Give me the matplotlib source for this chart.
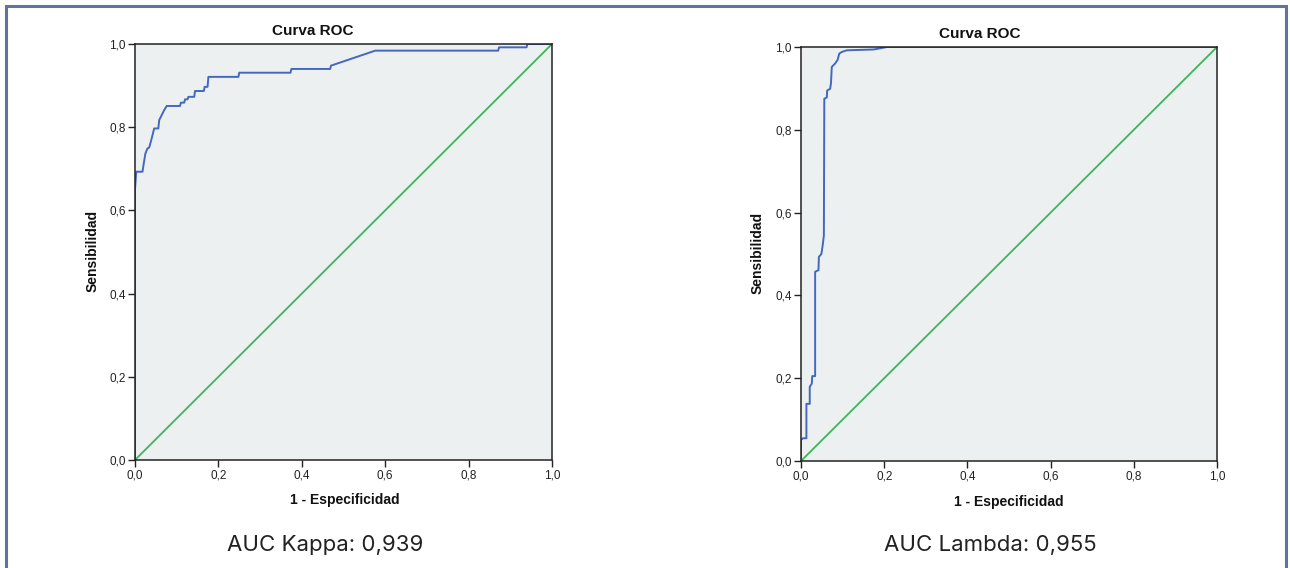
import matplotlib
matplotlib.use("Agg")
import matplotlib.pyplot as plt
from matplotlib.patches import Rectangle


# Curva ROC - Kappa
kappa_fpr = [0.0, 0.0, 0.003, 0.018, 0.021, 0.025, 0.030, 0.034, 0.040, 0.046,
             0.056, 0.058, 0.064, 0.070, 0.076, 0.108, 0.110, 0.118, 0.120,
             0.126, 0.128, 0.142, 0.144, 0.165, 0.167, 0.174, 0.176, 0.248,
             0.250, 0.373, 0.375, 0.468, 0.470, 0.576, 0.871, 0.873, 0.939,
             0.941, 1.0]
kappa_tpr = [0.0, 0.650, 0.693, 0.693, 0.713, 0.737, 0.749, 0.751, 0.773, 0.797,
             0.797, 0.817, 0.829, 0.841, 0.851, 0.851, 0.859, 0.859, 0.867,
             0.867, 0.873, 0.873, 0.887, 0.887, 0.897, 0.897, 0.921, 0.921,
             0.931, 0.931, 0.940, 0.940, 0.948, 0.984, 0.984, 0.992, 0.992,
             1.0, 1.0]

# Curva ROC - Lambda
lambda_fpr = [0.0, 0.0, 0.005, 0.013, 0.013, 0.021, 0.021, 0.026, 0.027, 0.034,
              0.034, 0.042, 0.043, 0.049, 0.052, 0.055, 0.056, 0.062, 0.063,
              0.070, 0.072, 0.074, 0.082, 0.088, 0.092, 0.098, 0.110, 0.175,
              0.207, 1.0]
lambda_tpr = [0.0, 0.051, 0.055, 0.055, 0.138, 0.138, 0.179, 0.187, 0.205, 0.205,
              0.457, 0.461, 0.493, 0.500, 0.520, 0.545, 0.875, 0.878, 0.895,
              0.899, 0.912, 0.952, 0.960, 0.969, 0.984, 0.988, 0.992, 0.994,
              1.0, 1.0]

ticks = [0.0, 0.2, 0.4, 0.6, 0.8, 1.0]
tick_labels = ["0,0", "0,2", "0,4", "0,6", "0,8", "1,0"]

W, H = 1290, 568

plt.rcParams["font.family"] = ["Liberation Sans", "DejaVu Sans"]

fig = plt.figure(figsize=(W / 100, H / 100), dpi=100)


def px(x, y):
    return x / W, 1 - y / H


def draw_roc(rect, fpr, tpr):

    ax = fig.add_axes(rect)
    ax.set_facecolor("#edf0f0")

    ax.plot([0, 1], [0, 1], color="#3db55a", linewidth=1.3)
    ax.plot(fpr, tpr, color="#4468c0", linewidth=1.4)

    ax.set_xlim(0, 1)
    ax.set_ylim(0, 1)
    ax.set_xticks(ticks)
    ax.set_yticks(ticks)
    ax.set_xticklabels(tick_labels)
    ax.set_yticklabels(tick_labels)
    ax.tick_params(length=5, width=1, labelsize=8.5, pad=1.5,
                   colors="#222222")

    for spine in ax.spines.values():
        spine.set_color("#222222")
        spine.set_linewidth(1.1)

    return ax


draw_roc([135 / W, 1 - 460 / H, 417 / W, 416 / H], kappa_fpr, kappa_tpr)
draw_roc([801 / W, 1 - 461 / H, 416 / W, 414 / H], lambda_fpr, lambda_tpr)

# titulos y etiquetas
for (tx, ty), txt in [((313, 31), "Curva ROC"), ((980, 34), "Curva ROC")]:
    fig.text(*px(tx, ty), txt, ha="center", va="center",
             fontsize=11, fontweight="bold", color="#111111")

for (tx, ty) in [(345, 500), (1009, 502)]:
    fig.text(*px(tx, ty), "1 - Especificidad", ha="center", va="center",
             fontsize=10, fontweight="bold", color="#111111")

for (tx, ty) in [(93, 251), (758, 253)]:
    fig.text(*px(tx, ty), "Sensibilidad", ha="center", va="center",
             rotation=90, fontsize=10, fontweight="bold", color="#111111")

for (tx, ty), txt in [((325, 545), "AUC Kappa: 0,939"),
                      ((990, 545), "AUC Lambda: 0,955")]:
    fig.text(*px(tx, ty), txt, ha="center", va="center",
             fontsize=16, family=["Inter", "DejaVu Sans"], color="#222222")

# marco exterior
frame = Rectangle((5.5 / W, -0.05), 1280 / W, 1 - 6 / H + 0.05,
                  transform=fig.transFigure, fill=False,
                  edgecolor="#6373a0", linewidth=2.2)
fig.add_artist(frame)

fig.savefig("out.png", dpi=100)
plt.close(fig)
